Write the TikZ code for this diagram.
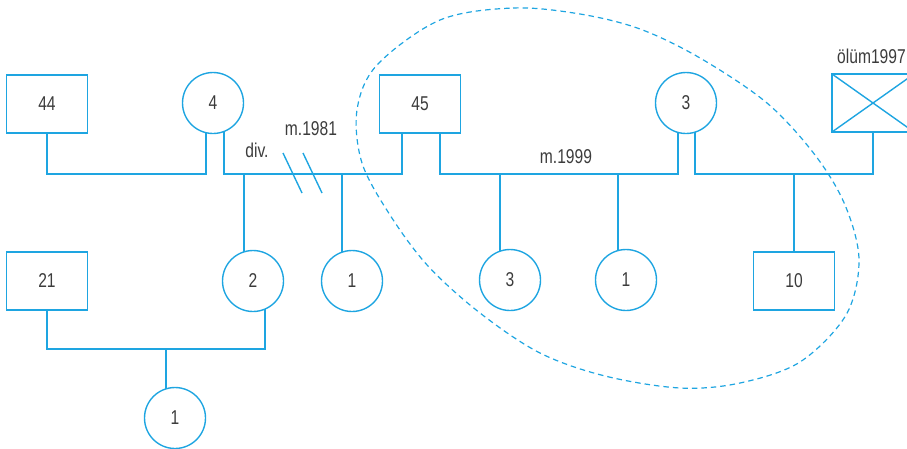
\documentclass[tikz,border=0pt]{standalone}
\usepackage{fontspec}
\setmainfont{Liberation Sans}[FakeStretch=0.78]
\usepackage{tikz}
\usetikzlibrary{calc}

\definecolor{kinblue}{RGB}{30,165,225}
\definecolor{kintext}{RGB}{60,60,60}

\begin{document}
\begin{tikzpicture}[
    x=1pt, y=-1pt,
    every node/.style={text=kintext, font=\fontsize{20}{22}\selectfont},
    male/.style={rectangle, draw=kinblue, line width=1.4pt, minimum width=81pt, minimum height=58pt, outer sep=0pt},
    female/.style={circle, draw=kinblue, line width=1.4pt, minimum size=61pt, inner sep=0pt, outer sep=0pt},
    line/.style={draw=kinblue, line width=1.4pt},
    tag/.style={inner sep=0pt},
    group/.style={draw=kinblue, line width=1.2pt, dash pattern=on 5.5pt off 4pt}
]
\useasboundingbox (0,0) rectangle (907,448);

% Place the nodes
\node [male] (p44) at (47,104) {44};
\node [female] (p4) at (213,103) {4};
\node [male] (p45) at (420,104) {45};
\node [female] (p3) at (686,103) {3};
\node [male, minimum width=82pt] (dead) at (873,103) {};
\node [male] (p21) at (47,281) {21};
\node [female] (p2) at (253,281) {2};
\node [female] (p1) at (352,281) {1};
\node [female] (q3) at (510,280) {3};
\node [female] (q1) at (626,280) {1};
\node [male] (p10) at (794,281) {10};
\node [female] (r1) at (175,418) {1};

\coordinate (row1) at (0,174);
\coordinate (row2) at (0,349);
\coordinate (p45l) at ($(p45.south)+(-18,0)$);
\coordinate (p45r) at ($(p45.south)+(20,0)$);

% Draw the lines
\path [line] (p44.south) -- (p44.south |- row1) -| (p4.257);
\path [line] (p4.291) -- (p4.291 |- row1) -| (p45l);
\path [line] (p2.107) -- (p2.107 |- row1);
\path [line] (p1.109) -- (p1.109 |- row1);
\path [line] (p45r) -- (p45r |- row1) -| (p3.255);
\path [line] (q3.109) -- (q3.109 |- row1);
\path [line] (q1.105) -- (q1.105 |- row1);
\path [line] (p3.287) -- (p3.287 |- row1) -| (dead.south);
\path [line] (p10.north) -- (p10.north |- row1);
\path [line] (dead.north west) -- (dead.south east) (dead.south west) -- (dead.north east);
\path [line] (p21.south) -- (p21.south |- row2) -| (p2.293);
\path [line] (r1.107) -- (r1.107 |- row2);

% divorce marks
\path [line] (283,153) -- (302,193);
\path [line] (303,153) -- (322,193);

% Labels
\node [tag] (div) at (257,150) {div.};
\node [tag] (m81) at (311,129) {m.1981};
\node [tag] (m99) at (566,157) {m.1999};
\node [tag, anchor=west] (death) at (837,56) {ölüm1997};

% household
\draw [group] plot [smooth cycle, tension=0.55] coordinates {
  (440,20) (513,8) (580,14) (640,29) (700,58) (767,103) (815,155)
  (845,205) (859,260) (846,315) (800,362) (740,383) (680,388)
  (605,376) (540,353) (480,313) (428,266) (390,215) (362,163)
  (357,110) (377,65)};

\end{tikzpicture}
\end{document}
